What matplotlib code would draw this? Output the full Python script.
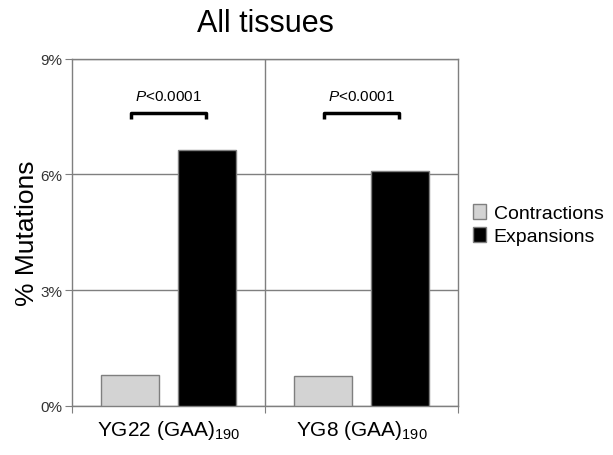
import numpy as np
import matplotlib.pyplot as plt
from matplotlib.patches import Patch

plt.rcParams['font.family'] = ['Liberation Sans', 'DejaVu Sans']
plt.rcParams['mathtext.fontset'] = 'custom'
plt.rcParams['mathtext.rm'] = 'Liberation Sans'
plt.rcParams['mathtext.it'] = 'Liberation Sans:italic'

# data (percent mutations)
groups = [r'YG22 (GAA)$_{190}$', r'YG8 (GAA)$_{190}$']
contractions = [0.81, 0.77]
expansions = [6.63, 6.09]
pvals = ['<0.0001', '<0.0001']

fig = plt.figure(figsize=(6.13, 4.56), dpi=100)
ax = fig.add_axes([0.1175, 0.108, 0.6295, 0.7615])

x = np.arange(len(groups)) + 0.5
w = 0.3
ax.bar(x - 0.2, contractions, w, color='#d3d3d3', edgecolor='#7f7f7f', lw=1, zorder=3, label='Contractions')
ax.bar(x + 0.2, expansions, w, color='black', edgecolor='#7f7f7f', lw=1, zorder=3, label='Expansions')

# significance brackets
for xi, p in zip(x, pvals):
    ax.plot([xi - 0.195, xi - 0.195, xi + 0.195, xi + 0.195], [7.43, 7.58, 7.58, 7.43],
            color='black', lw=2.5, solid_capstyle='butt', zorder=4)
    ax.text(xi, 8.02, '$P$' + p, ha='center', va='center', fontsize=11)

ax.set_xlim(0, 2)
ax.set_ylim(0, 9)
ax.set_yticks([0, 3, 6, 9])
ax.set_yticklabels(['0%', '3%', '6%', '9%'], fontsize=11, color='#333333')
ax.set_xticks([0, 1, 2])
ax.set_xticklabels([])
ax.set_xticks(x, minor=True)
ax.set_xticklabels(groups, minor=True, fontsize=15)
ax.tick_params(axis='x', which='minor', length=0, pad=9)
ax.tick_params(axis='x', which='major', length=5, color='#7f7f7f')
ax.tick_params(axis='y', length=5, color='#7f7f7f', pad=2)
ax.yaxis.grid(True, color='#7f7f7f', lw=1, zorder=0)
ax.axvline(1, color='#7f7f7f', lw=1, zorder=1)
for s in ax.spines.values():
    s.set_color('#7f7f7f')
    s.set_linewidth(1)

ax.set_ylabel('% Mutations', fontsize=19, labelpad=1)
ax.set_title('All tissues', fontsize=22, pad=20)

handles = [Patch(facecolor='#d3d3d3', edgecolor='#7f7f7f', label='Contractions'),
           Patch(facecolor='black', edgecolor='#7f7f7f', label='Expansions')]
fig.legend(handles=handles, loc='center left', bbox_to_anchor=(0.772, 0.505), frameon=False,
           fontsize=14, handlelength=0.65, handleheight=0.8, handletextpad=0.4, labelspacing=0.25,
           borderpad=0, borderaxespad=0)

fig.savefig('out.png', dpi=100)
